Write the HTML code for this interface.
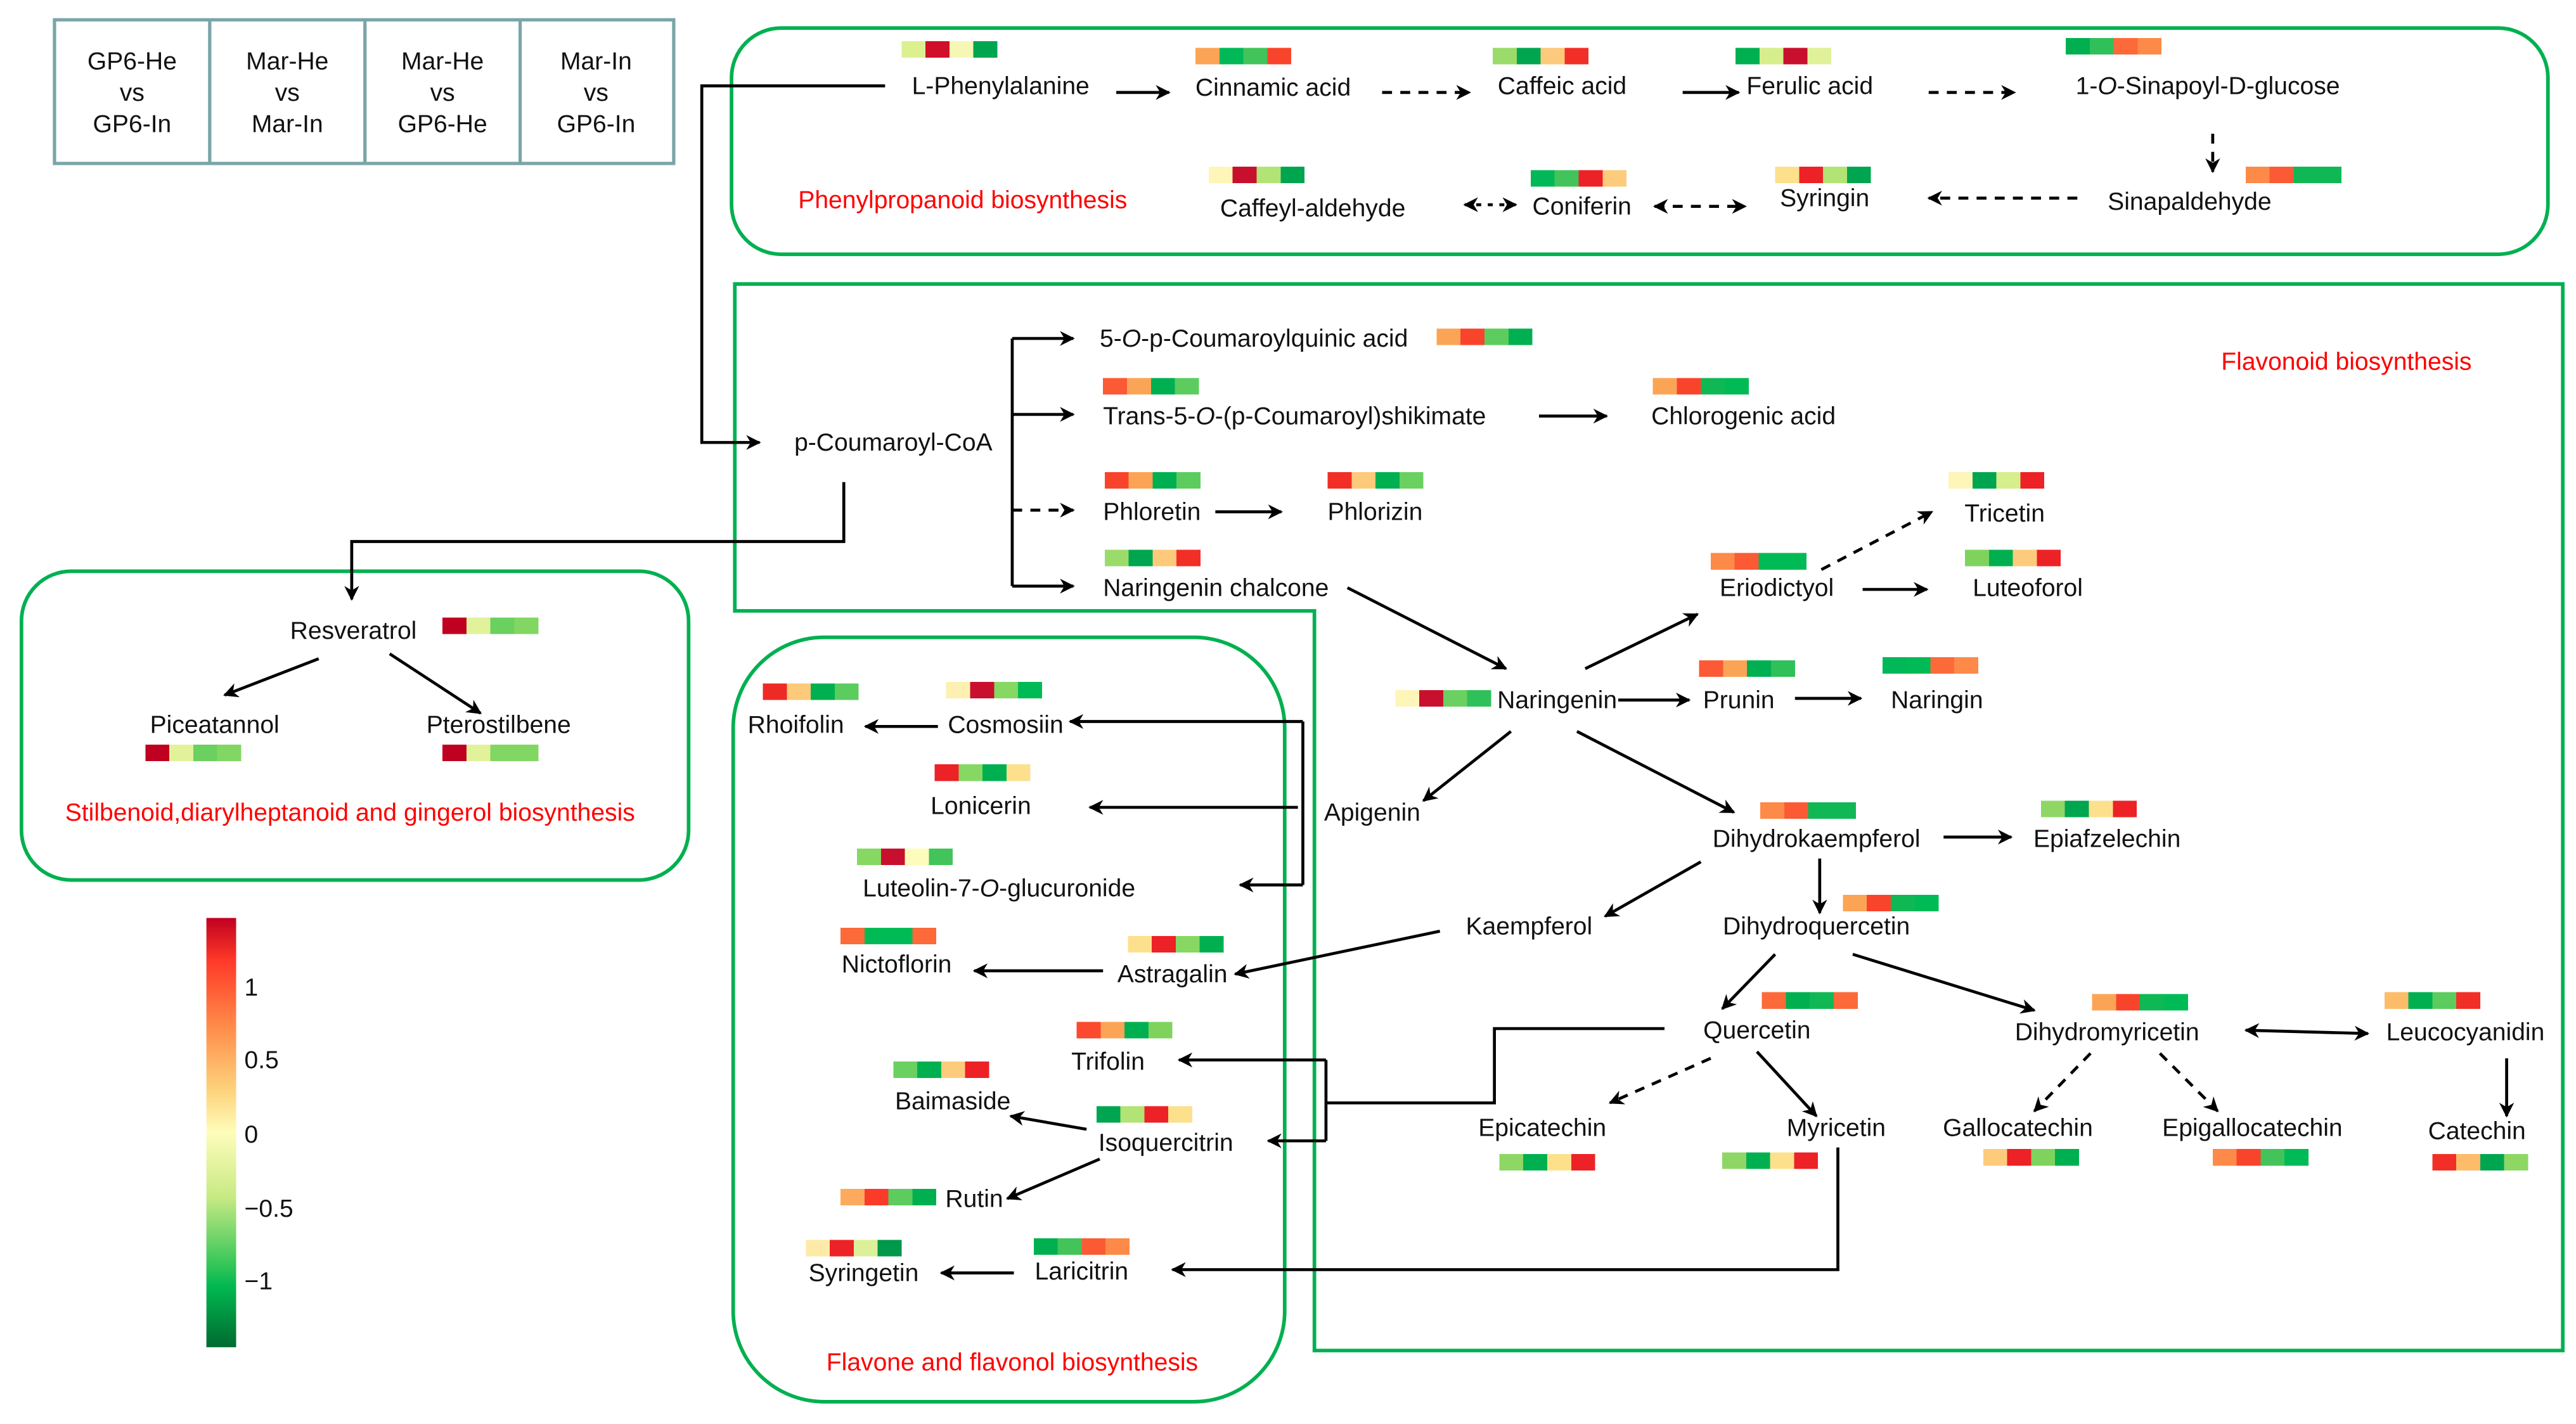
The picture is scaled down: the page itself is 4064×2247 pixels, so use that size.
<!DOCTYPE html>
<html><head><meta charset="utf-8"><style>
html,body{margin:0;padding:0;background:#fff;}
svg{display:block;}
text{font-family:"Liberation Sans",sans-serif;font-size:15px;fill:#111;}
.red{fill:#ff0000;}
.k{stroke:#000;stroke-width:1.8;fill:none;}
.d{stroke:#000;stroke-width:1.8;fill:none;stroke-dasharray:6,5;}
.b{stroke:#00b050;stroke-width:2.2;fill:none;}
</style></head><body>
<svg width="4064" height="2247" viewBox="0 0 1560 862.5" preserveAspectRatio="none" xmlns="http://www.w3.org/2000/svg">
<defs>
<marker id="a" viewBox="0 0 10 10" refX="9" refY="5" markerWidth="5" markerHeight="5" orient="auto-start-reverse"><path d="M0,0 L10,5 L0,10 L3,5 z" fill="#000"/></marker>
<linearGradient id="cb" x1="0" y1="0" x2="0" y2="1">
<stop offset="0" stop-color="#c00020"/><stop offset="0.1" stop-color="#ff3a28"/><stop offset="0.25" stop-color="#ff8a48"/><stop offset="0.4" stop-color="#fdd27c"/><stop offset="0.5" stop-color="#fefdbb"/><stop offset="0.65" stop-color="#c8ea84"/><stop offset="0.8" stop-color="#3cc85a"/><stop offset="0.86" stop-color="#00b850"/><stop offset="1" stop-color="#006a30"/>
</linearGradient>
</defs>

<!-- legend table -->
<g fill="none" stroke="#7aa5a8" stroke-width="2">
<rect x="33" y="12" width="375" height="87"/>
<line x1="127" y1="12" x2="127" y2="99"/><line x1="221" y1="12" x2="221" y2="99"/><line x1="315" y1="12" x2="315" y2="99"/>
</g>
<g text-anchor="middle" font-size="14">
<text x="80" y="42">GP6-He</text><text x="80" y="61">vs</text><text x="80" y="80">GP6-In</text>
<text x="174" y="42">Mar-He</text><text x="174" y="61">vs</text><text x="174" y="80">Mar-In</text>
<text x="268" y="42">Mar-He</text><text x="268" y="61">vs</text><text x="268" y="80">GP6-He</text>
<text x="361" y="42">Mar-In</text><text x="361" y="61">vs</text><text x="361" y="80">GP6-In</text>
</g>

<!-- boxes -->
<rect class="b" x="443" y="17" width="1100" height="137" rx="30"/>
<path class="b" d="M445,172 H1552 V818 H796 V370 H445 Z"/>
<rect class="b" x="13" y="346" width="404" height="187" rx="30"/>
<rect class="b" x="444" y="386" width="334" height="463" rx="55"/>

<!-- color bar -->
<rect x="125" y="556" width="18" height="260" fill="url(#cb)"/>
<g font-size="16"><text x="148" y="603">1</text><text x="148" y="647">0.5</text><text x="148" y="692">0</text><text x="148" y="737">−0.5</text><text x="148" y="781">−1</text></g>

<!-- red titles -->
<text class="red" x="583" y="126" text-anchor="middle">Phenylpropanoid biosynthesis</text>
<text class="red" x="1421" y="224" text-anchor="middle">Flavonoid biosynthesis</text>
<text class="red" x="212" y="497" text-anchor="middle">Stilbenoid,diarylheptanoid and gingerol biosynthesis</text>
<text class="red" x="613" y="830" text-anchor="middle">Flavone and flavonol biosynthesis</text>

<!-- labels -->
<g text-anchor="middle">
<text x="606" y="57">L-Phenylalanine</text>
<text x="771" y="58">Cinnamic acid</text>
<text x="946" y="57">Caffeic acid</text>
<text x="1096" y="57">Ferulic acid</text>
<text x="1337" y="57">1-<tspan font-style="italic">O</tspan>-Sinapoyl-D-glucose</text>
<text x="1326" y="127">Sinapaldehyde</text>
<text x="1105" y="125">Syringin</text>
<text x="958" y="130">Coniferin</text>
<text x="795" y="131">Caffeyl-aldehyde</text>
<text x="541" y="273">p-Coumaroyl-CoA</text>
<text x="214" y="387">Resveratrol</text>
<text x="130" y="444">Piceatannol</text>
<text x="302" y="444">Pterostilbene</text>
<text x="1076" y="361">Eriodictyol</text>
<text x="1214" y="316">Tricetin</text>
<text x="1228" y="361">Luteoforol</text>
<text x="943" y="429">Naringenin</text>
<text x="1053" y="429">Prunin</text>
<text x="1173" y="429">Naringin</text>
<text x="831" y="497">Apigenin</text>
<text x="1100" y="513">Dihydrokaempferol</text>
<text x="1276" y="513">Epiafzelechin</text>
<text x="926" y="566">Kaempferol</text>
<text x="1100" y="566">Dihydroquercetin</text>
<text x="1064" y="629">Quercetin</text>
<text x="1276" y="630">Dihydromyricetin</text>
<text x="1493" y="630">Leucocyanidin</text>
<text x="1500" y="690">Catechin</text>
<text x="934" y="688">Epicatechin</text>
<text x="1112" y="688">Myricetin</text>
<text x="1222" y="688">Gallocatechin</text>
<text x="1364" y="688">Epigallocatechin</text>
<text x="482" y="444">Rhoifolin</text>
<text x="609" y="444">Cosmosiin</text>
<text x="594" y="493">Lonicerin</text>
<text x="605" y="543">Luteolin-7-<tspan font-style="italic">O</tspan>-glucuronide</text>
<text x="543" y="589">Nictoflorin</text>
<text x="710" y="595">Astragalin</text>
<text x="671" y="648">Trifolin</text>
<text x="577" y="672">Baimaside</text>
<text x="706" y="697">Isoquercitrin</text>
<text x="590" y="731">Rutin</text>
<text x="523" y="776">Syringetin</text>
<text x="655" y="775">Laricitrin</text>
</g>
<g>
<text x="666" y="210">5-<tspan font-style="italic">O</tspan>-p-Coumaroylquinic acid</text>
<text x="668" y="257">Trans-5-<tspan font-style="italic">O</tspan>-(p-Coumaroyl)shikimate</text>
<text x="1000" y="257">Chlorogenic acid</text>
<text x="668" y="315">Phloretin</text>
<text x="804" y="315">Phlorizin</text>
<text x="668" y="361">Naringenin chalcone</text>
</g>

<!-- connectors -->
<g class="k">
<path d="M536,52 H425 V268 H460" marker-end="url(#a)"/>
<path d="M511,292 V328 H213 V363" marker-end="url(#a)"/>
<path d="M676,56 H708" marker-end="url(#a)"/>
<path d="M1019,56 H1053" marker-end="url(#a)"/>
<path d="M613,205 V355"/>
<path d="M613,205 H650" marker-end="url(#a)"/>
<path d="M613,251 H650" marker-end="url(#a)"/>
<path d="M613,355 H650" marker-end="url(#a)"/>
<path d="M932,252 H973" marker-end="url(#a)"/>
<path d="M736,310 H776" marker-end="url(#a)"/>
<path d="M816,356 L912,405" marker-end="url(#a)"/>
<path d="M980,424 H1023" marker-end="url(#a)"/>
<path d="M960,405 L1028,372" marker-end="url(#a)"/>
<path d="M915,443 L862,485" marker-end="url(#a)"/>
<path d="M955,443 L1050,492" marker-end="url(#a)"/>
<path d="M1128,357 H1167" marker-end="url(#a)"/>
<path d="M1087,423 H1127" marker-end="url(#a)"/>
<path d="M1177,507 H1218" marker-end="url(#a)"/>
<path d="M1102,520 V553" marker-end="url(#a)"/>
<path d="M1030,522 L972,555" marker-end="url(#a)"/>
<path d="M872,564 L748,590" marker-end="url(#a)"/>
<path d="M1075,578 L1043,611" marker-end="url(#a)"/>
<path d="M1122,578 L1232,612" marker-end="url(#a)"/>
<path d="M1360,624 L1434,626" marker-start="url(#a)" marker-end="url(#a)"/>
<path d="M1518,641 V676" marker-end="url(#a)"/>
<path d="M1064,637 L1100,676" marker-end="url(#a)"/>
<path d="M1008,623 H905 V668 H803"/>
<path d="M803,642 V691"/>
<path d="M803,642 H714" marker-end="url(#a)"/>
<path d="M803,691 H768" marker-end="url(#a)"/>
<path d="M1113,695 V769 H710" marker-end="url(#a)"/>
<path d="M789,437 V536"/>
<path d="M789,437 H648" marker-end="url(#a)"/>
<path d="M789,536 H751" marker-end="url(#a)"/>
<path d="M786,489 H660" marker-end="url(#a)"/>
<path d="M568,440 H524" marker-end="url(#a)"/>
<path d="M668,588 H590" marker-end="url(#a)"/>
<path d="M658,684 L612,676" marker-end="url(#a)"/>
<path d="M666,702 L610,726" marker-end="url(#a)"/>
<path d="M614,771 H570" marker-end="url(#a)"/>
<path d="M193,399 L136,421" marker-end="url(#a)"/>
<path d="M236,396 L291,432" marker-end="url(#a)"/>
</g>
<g class="d">
<path d="M837,56 H890" marker-end="url(#a)"/>
<path d="M1168,56 H1220" marker-end="url(#a)"/>
<path d="M1340,81 V104" marker-end="url(#a)"/>
<path d="M1258,120 H1168" marker-end="url(#a)"/>
<path d="M1002,125 H1057" marker-start="url(#a)" marker-end="url(#a)"/>
<path d="M887,124 H918" marker-start="url(#a)" marker-end="url(#a)" stroke-dasharray="3,4"/>
<path d="M613,309 H650" marker-end="url(#a)"/>
<path d="M1103,345 L1170,310" marker-end="url(#a)"/>
<path d="M1036,641 L975,668" marker-end="url(#a)"/>
<path d="M1266,638 L1232,673" marker-end="url(#a)"/>
<path d="M1308,638 L1343,673" marker-end="url(#a)"/>
</g>

<!-- heatmaps: colours R dark red, r red, o orange-red, O orange, y light orange, p pale, l yellow-green, g light green, G green, D dark green -->
<g shape-rendering="crispEdges">
<g transform="translate(546,25)"><rect width="14.5" height="10" fill="#dcf090"/><rect x="14.5" width="14.5" height="10" fill="#d0102a"/><rect x="29" width="14.5" height="10" fill="#f6f7b4"/><rect x="43.5" width="14.5" height="10" fill="#00a550"/></g>
<g transform="translate(724,29)"><rect width="14.5" height="10" fill="#fca456"/><rect x="14.5" width="14.5" height="10" fill="#00b857"/><rect x="29" width="14.5" height="10" fill="#42c45a"/><rect x="43.5" width="14.5" height="10" fill="#f9442c"/></g>
<g transform="translate(904,29)"><rect width="14.5" height="10" fill="#9bdb6a"/><rect x="14.5" width="14.5" height="10" fill="#00a550"/><rect x="29" width="14.5" height="10" fill="#fdc97a"/><rect x="43.5" width="14.5" height="10" fill="#f22f26"/></g>
<g transform="translate(1051,29)"><rect width="14.5" height="10" fill="#00b050"/><rect x="14.5" width="14.5" height="10" fill="#d6ef8c"/><rect x="29" width="14.5" height="10" fill="#c8102e"/><rect x="43.5" width="14.5" height="10" fill="#e0f19a"/></g>
<g transform="translate(1251,23)"><rect width="14.5" height="10" fill="#00b050"/><rect x="14.5" width="14.5" height="10" fill="#30c05a"/><rect x="29" width="14.5" height="10" fill="#fc6a3a"/><rect x="43.5" width="14.5" height="10" fill="#fd8a48"/></g>
<g transform="translate(1360,101)"><rect width="14.5" height="10" fill="#fd8a48"/><rect x="14.5" width="14.5" height="10" fill="#fb5a35"/><rect x="29" width="14.5" height="10" fill="#10b855"/><rect x="43.5" width="14.5" height="10" fill="#10b855"/></g>
<g transform="translate(1075,101)"><rect width="14.5" height="10" fill="#fde08c"/><rect x="14.5" width="14.5" height="10" fill="#ec2227"/><rect x="29" width="14.5" height="10" fill="#b2e375"/><rect x="43.5" width="14.5" height="10" fill="#00a550"/></g>
<g transform="translate(927,103)"><rect width="14.5" height="10" fill="#00b857"/><rect x="14.5" width="14.5" height="10" fill="#42c45a"/><rect x="29" width="14.5" height="10" fill="#ec2227"/><rect x="43.5" width="14.5" height="10" fill="#fdcb7c"/></g>
<g transform="translate(732,101)"><rect width="14.5" height="10" fill="#fef5b8"/><rect x="14.5" width="14.5" height="10" fill="#c8102e"/><rect x="29" width="14.5" height="10" fill="#b2e375"/><rect x="43.5" width="14.5" height="10" fill="#00a550"/></g>
<g transform="translate(870,199)"><rect width="14.5" height="10" fill="#fca456"/><rect x="14.5" width="14.5" height="10" fill="#f9442c"/><rect x="29" width="14.5" height="10" fill="#5ccc5e"/><rect x="43.5" width="14.5" height="10" fill="#00b050"/></g>
<g transform="translate(668,229)"><rect width="14.5" height="10" fill="#fb5a35"/><rect x="14.5" width="14.5" height="10" fill="#fca456"/><rect x="29" width="14.5" height="10" fill="#00b050"/><rect x="43.5" width="14.5" height="10" fill="#5ccc5e"/></g>
<g transform="translate(1001,229)"><rect width="14.5" height="10" fill="#fca456"/><rect x="14.5" width="14.5" height="10" fill="#f9442c"/><rect x="29" width="14.5" height="10" fill="#10b855"/><rect x="43.5" width="14.5" height="10" fill="#00bb55"/></g>
<g transform="translate(669,286)"><rect width="14.5" height="10" fill="#f9442c"/><rect x="14.5" width="14.5" height="10" fill="#fca456"/><rect x="29" width="14.5" height="10" fill="#00b050"/><rect x="43.5" width="14.5" height="10" fill="#5ccc5e"/></g>
<g transform="translate(804,286)"><rect width="14.5" height="10" fill="#f22f26"/><rect x="14.5" width="14.5" height="10" fill="#fdc97a"/><rect x="29" width="14.5" height="10" fill="#00b050"/><rect x="43.5" width="14.5" height="10" fill="#6ad060"/></g>
<g transform="translate(669,333)"><rect width="14.5" height="10" fill="#9bdb6a"/><rect x="14.5" width="14.5" height="10" fill="#00a550"/><rect x="29" width="14.5" height="10" fill="#fdc97a"/><rect x="43.5" width="14.5" height="10" fill="#f22f26"/></g>
<g transform="translate(845,418)"><rect width="14.5" height="10" fill="#fef5b8"/><rect x="14.5" width="14.5" height="10" fill="#c8102e"/><rect x="29" width="14.5" height="10" fill="#6ad060"/><rect x="43.5" width="14.5" height="10" fill="#30c05a"/></g>
<g transform="translate(1036,335)"><rect width="14.5" height="10" fill="#fd8a48"/><rect x="14.5" width="14.5" height="10" fill="#fb5a35"/><rect x="29" width="14.5" height="10" fill="#00bb55"/><rect x="43.5" width="14.5" height="10" fill="#00bb55"/></g>
<g transform="translate(1180,286)"><rect width="14.5" height="10" fill="#fef5b8"/><rect x="14.5" width="14.5" height="10" fill="#00a550"/><rect x="29" width="14.5" height="10" fill="#d6ef8c"/><rect x="43.5" width="14.5" height="10" fill="#ec2227"/></g>
<g transform="translate(1190,333)"><rect width="14.5" height="10" fill="#7fd35d"/><rect x="14.5" width="14.5" height="10" fill="#00b050"/><rect x="29" width="14.5" height="10" fill="#fdcb7c"/><rect x="43.5" width="14.5" height="10" fill="#ec2227"/></g>
<g transform="translate(1029,400)"><rect width="14.5" height="10" fill="#fb5a35"/><rect x="14.5" width="14.5" height="10" fill="#fca456"/><rect x="29" width="14.5" height="10" fill="#00b050"/><rect x="43.5" width="14.5" height="10" fill="#30c05a"/></g>
<g transform="translate(1140,398)"><rect width="14.5" height="10" fill="#00b857"/><rect x="14.5" width="14.5" height="10" fill="#00bb55"/><rect x="29" width="14.5" height="10" fill="#fc6a3a"/><rect x="43.5" width="14.5" height="10" fill="#fd8a48"/></g>
<g transform="translate(1066,486)"><rect width="14.5" height="10" fill="#fd8a48"/><rect x="14.5" width="14.5" height="10" fill="#fb5a35"/><rect x="29" width="14.5" height="10" fill="#10b855"/><rect x="43.5" width="14.5" height="10" fill="#10b855"/></g>
<g transform="translate(1236,485)"><rect width="14.5" height="10" fill="#8ed764"/><rect x="14.5" width="14.5" height="10" fill="#00a550"/><rect x="29" width="14.5" height="10" fill="#fde08c"/><rect x="43.5" width="14.5" height="10" fill="#ec2227"/></g>
<g transform="translate(1116,542)"><rect width="14.5" height="10" fill="#fca456"/><rect x="14.5" width="14.5" height="10" fill="#f9442c"/><rect x="29" width="14.5" height="10" fill="#10b855"/><rect x="43.5" width="14.5" height="10" fill="#00bb55"/></g>
<g transform="translate(1067,601)"><rect width="14.5" height="10" fill="#fc6a3a"/><rect x="14.5" width="14.5" height="10" fill="#00b050"/><rect x="29" width="14.5" height="10" fill="#10b855"/><rect x="43.5" width="14.5" height="10" fill="#fc6a3a"/></g>
<g transform="translate(1267,602)"><rect width="14.5" height="10" fill="#fca456"/><rect x="14.5" width="14.5" height="10" fill="#f9442c"/><rect x="29" width="14.5" height="10" fill="#10b855"/><rect x="43.5" width="14.5" height="10" fill="#00bb55"/></g>
<g transform="translate(1444,601)"><rect width="14.5" height="10" fill="#fdbc6a"/><rect x="14.5" width="14.5" height="10" fill="#00b050"/><rect x="29" width="14.5" height="10" fill="#5ccc5e"/><rect x="43.5" width="14.5" height="10" fill="#f22f26"/></g>
<g transform="translate(1473,699)"><rect width="14.5" height="10" fill="#f22f26"/><rect x="14.5" width="14.5" height="10" fill="#fdbc6a"/><rect x="29" width="14.5" height="10" fill="#00a550"/><rect x="43.5" width="14.5" height="10" fill="#8ed764"/></g>
<g transform="translate(908,699)"><rect width="14.5" height="10" fill="#8ed764"/><rect x="14.5" width="14.5" height="10" fill="#00b050"/><rect x="29" width="14.5" height="10" fill="#fde08c"/><rect x="43.5" width="14.5" height="10" fill="#ec2227"/></g>
<g transform="translate(1043,698)"><rect width="14.5" height="10" fill="#8ed764"/><rect x="14.5" width="14.5" height="10" fill="#00b050"/><rect x="29" width="14.5" height="10" fill="#fde08c"/><rect x="43.5" width="14.5" height="10" fill="#ec2227"/></g>
<g transform="translate(1201,696)"><rect width="14.5" height="10" fill="#fdcb7c"/><rect x="14.5" width="14.5" height="10" fill="#ec2227"/><rect x="29" width="14.5" height="10" fill="#7fd35d"/><rect x="43.5" width="14.5" height="10" fill="#00b050"/></g>
<g transform="translate(1340,696)"><rect width="14.5" height="10" fill="#fd8a48"/><rect x="14.5" width="14.5" height="10" fill="#f9442c"/><rect x="29" width="14.5" height="10" fill="#42c45a"/><rect x="43.5" width="14.5" height="10" fill="#00bb55"/></g>
<g transform="translate(268,374)"><rect width="14.5" height="10" fill="#c00020"/><rect x="14.5" width="14.5" height="10" fill="#e2f29a"/><rect x="29" width="14.5" height="10" fill="#6ad060"/><rect x="43.5" width="14.5" height="10" fill="#82d662"/></g>
<g transform="translate(88,451)"><rect width="14.5" height="10" fill="#c00020"/><rect x="14.5" width="14.5" height="10" fill="#e2f29a"/><rect x="29" width="14.5" height="10" fill="#6ad060"/><rect x="43.5" width="14.5" height="10" fill="#82d662"/></g>
<g transform="translate(268,451)"><rect width="14.5" height="10" fill="#c00020"/><rect x="14.5" width="14.5" height="10" fill="#e2f29a"/><rect x="29" width="14.5" height="10" fill="#82d662"/><rect x="43.5" width="14.5" height="10" fill="#82d662"/></g>
<g transform="translate(462,414)"><rect width="14.5" height="10" fill="#ee2a27"/><rect x="14.5" width="14.5" height="10" fill="#fdc97a"/><rect x="29" width="14.5" height="10" fill="#00b050"/><rect x="43.5" width="14.5" height="10" fill="#5ccc5e"/></g>
<g transform="translate(573,413)"><rect width="14.5" height="10" fill="#fef0b0"/><rect x="14.5" width="14.5" height="10" fill="#c8102e"/><rect x="29" width="14.5" height="10" fill="#86d862"/><rect x="43.5" width="14.5" height="10" fill="#00bb55"/></g>
<g transform="translate(566,463)"><rect width="14.5" height="10" fill="#ec2227"/><rect x="14.5" width="14.5" height="10" fill="#86d862"/><rect x="29" width="14.5" height="10" fill="#00b050"/><rect x="43.5" width="14.5" height="10" fill="#fde08c"/></g>
<g transform="translate(519,514)"><rect width="14.5" height="10" fill="#86d862"/><rect x="14.5" width="14.5" height="10" fill="#c8102e"/><rect x="29" width="14.5" height="10" fill="#fefcbb"/><rect x="43.5" width="14.5" height="10" fill="#42c45a"/></g>
<g transform="translate(509,562)"><rect width="14.5" height="10" fill="#fc6a3a"/><rect x="14.5" width="14.5" height="10" fill="#00bb55"/><rect x="29" width="14.5" height="10" fill="#00bb55"/><rect x="43.5" width="14.5" height="10" fill="#fc6a3a"/></g>
<g transform="translate(683,567)"><rect width="14.5" height="10" fill="#fde08c"/><rect x="14.5" width="14.5" height="10" fill="#ec2227"/><rect x="29" width="14.5" height="10" fill="#86d862"/><rect x="43.5" width="14.5" height="10" fill="#00b050"/></g>
<g transform="translate(652,619)"><rect width="14.5" height="10" fill="#fb4a2e"/><rect x="14.5" width="14.5" height="10" fill="#fca456"/><rect x="29" width="14.5" height="10" fill="#00b050"/><rect x="43.5" width="14.5" height="10" fill="#7fd35d"/></g>
<g transform="translate(541,643)"><rect width="14.5" height="10" fill="#6ad060"/><rect x="14.5" width="14.5" height="10" fill="#00b050"/><rect x="29" width="14.5" height="10" fill="#fdcb7c"/><rect x="43.5" width="14.5" height="10" fill="#ec2227"/></g>
<g transform="translate(664,670)"><rect width="14.5" height="10" fill="#00a550"/><rect x="14.5" width="14.5" height="10" fill="#b2e375"/><rect x="29" width="14.5" height="10" fill="#ec2227"/><rect x="43.5" width="14.5" height="10" fill="#fde08c"/></g>
<g transform="translate(509,720)"><rect width="14.5" height="10" fill="#fdaa5e"/><rect x="14.5" width="14.5" height="10" fill="#fb3a2a"/><rect x="29" width="14.5" height="10" fill="#5ccc5e"/><rect x="43.5" width="14.5" height="10" fill="#00b050"/></g>
<g transform="translate(488,751)"><rect width="14.5" height="10" fill="#fdeaa6"/><rect x="14.5" width="14.5" height="10" fill="#ec2227"/><rect x="29" width="14.5" height="10" fill="#dcf09a"/><rect x="43.5" width="14.5" height="10" fill="#00984a"/></g>
<g transform="translate(626,750)"><rect width="14.5" height="10" fill="#00b050"/><rect x="14.5" width="14.5" height="10" fill="#42c45a"/><rect x="29" width="14.5" height="10" fill="#fc5a35"/><rect x="43.5" width="14.5" height="10" fill="#fd8a48"/></g>
</g>
</svg>
</body></html>
